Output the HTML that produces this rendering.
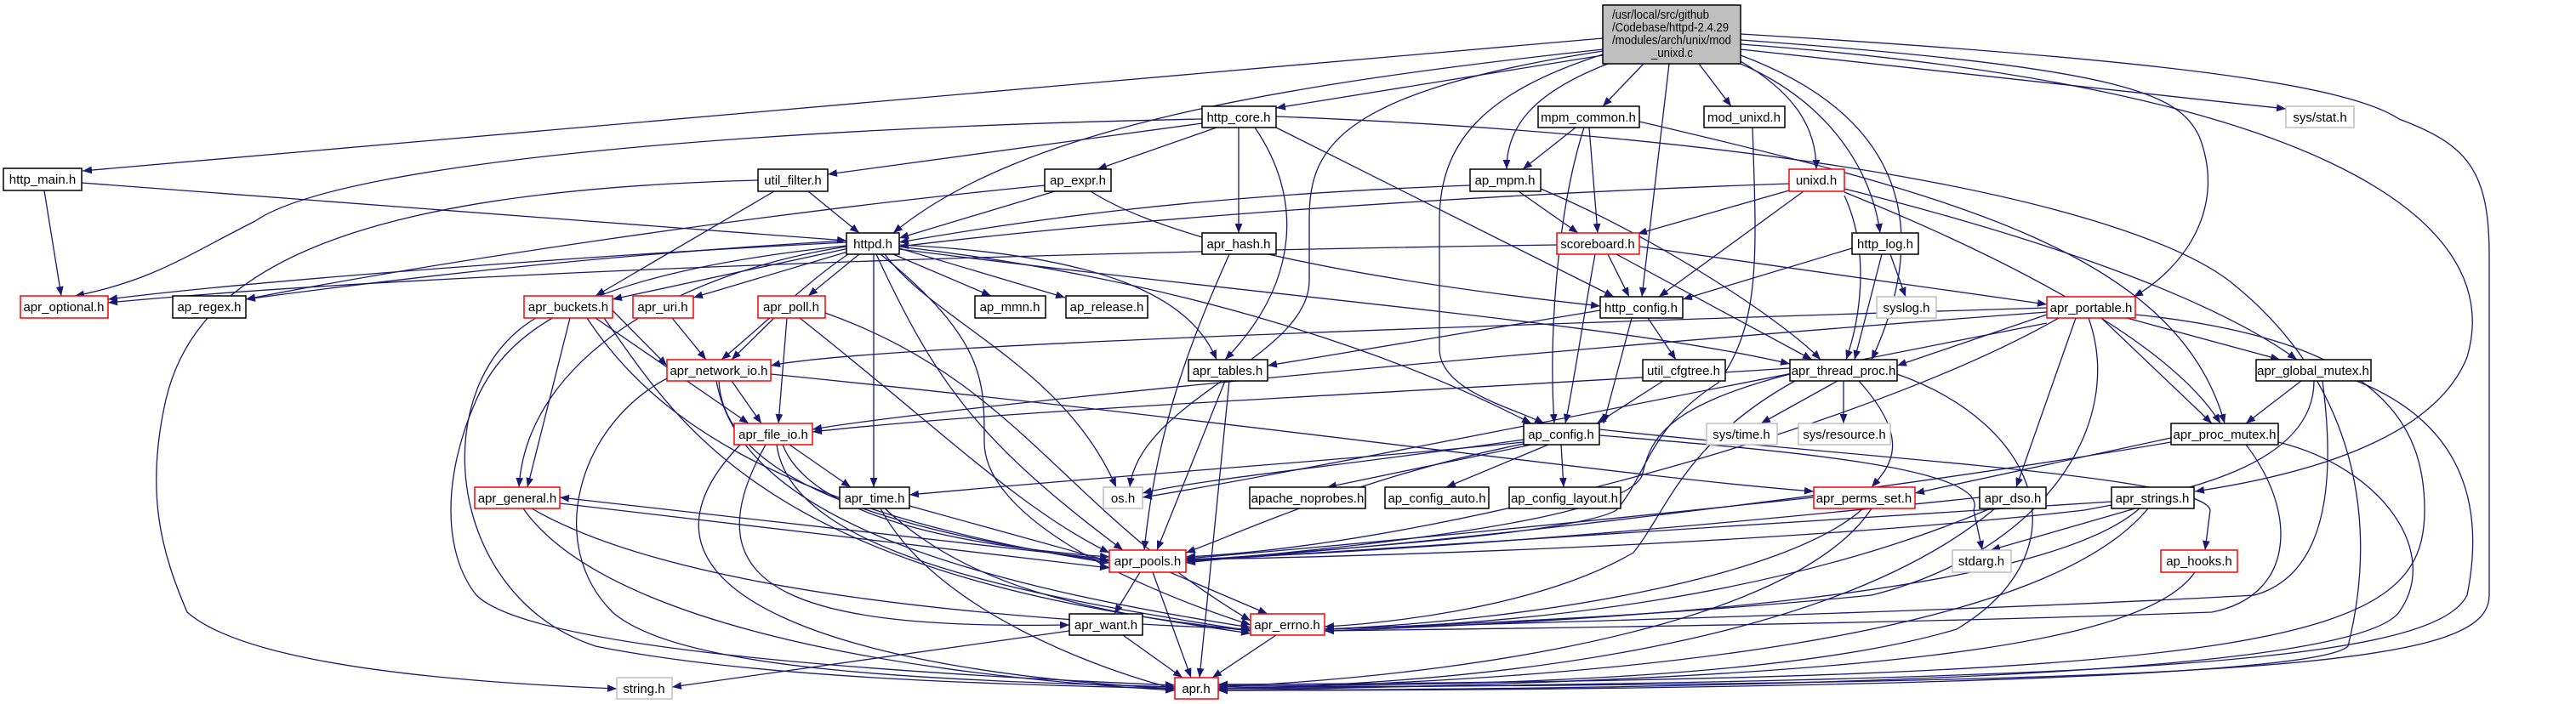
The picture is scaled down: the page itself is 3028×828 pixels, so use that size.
<!DOCTYPE html>
<html><head><meta charset="utf-8"><style>
html,body{margin:0;padding:0;background:#fff;}
svg{display:block;}
text{font-family:"Liberation Sans",sans-serif;font-size:15px;fill:#000;}
.e{fill:none;stroke:#191970;stroke-width:1.3;marker-end:url(#a);}
.n{fill:#fff;stroke:#000;stroke-width:1.5;}
.r{fill:#fff;stroke:#ff0000;stroke-width:1.5;}
.g{fill:#fff;stroke:#bfbfbf;stroke-width:1.5;}
</style></head><body>
<svg width="3028" height="828" viewBox="0 0 3028 828" xmlns="http://www.w3.org/2000/svg">
<defs><marker id="a" viewBox="0 0 10 10" refX="10" refY="5" markerWidth="11" markerHeight="11" markerUnits="userSpaceOnUse" orient="auto"><path d="M0,1 L10,5 L0,9z" fill="#191970"/></marker></defs>
<g>
<!-- root -->
<path class="e" d="M1884,45 L97,201"/>
<path class="e" d="M1884,58 C1500,100 1200,150 1050,274"/>
<path class="e" d="M1884,65 L1500,127"/>
<path class="e" d="M1890,75 C1800,110 1771,150 1771,199"/>
<path class="e" d="M1932,75 L1884,125"/>
<path class="e" d="M1997,75 L2035,125"/>
<path class="e" d="M1962,75 L1930,349"/>
<path class="e" d="M2046,72 C2110,110 2135,150 2135,199"/>
<path class="e" d="M2046,75 C2150,120 2200,200 2210,274"/>
<path class="e" d="M2046,65 C2220,130 2280,250 2200,423"/>
<path class="e" d="M2046,47 C2500,80 2560,110 2585,160 C2620,250 2560,320 2508,349"/>
<path class="e" d="M2046,58 L2687,128"/>
<path class="e" d="M2046,40 C2550,70 2760,100 2820,140 C2900,170 2926,200 2926,300 L2926,700 C2926,780 2700,805 1432,808"/>
<path class="e" d="M1884,60 C1560,110 1539,180 1539,260 L1539,330 C1539,420 1340,470 1328,573"/>
<path class="e" d="M1884,64 C1740,110 1692,170 1692,260 L1692,410 C1692,460 1780,480 1815,498"/>
<path class="e" d="M2046,52 C2700,100 2950,250 2900,420 C2860,520 2700,560 2580,578"/>
<!-- http_main -->
<path class="e" d="M52,224 L72,348"/>
<path class="e" d="M96,215 L995,283"/>
<!-- http_core -->
<path class="e" d="M1413,140 C900,150 400,190 300,260 C220,300 180,330 88,348"/>
<path class="e" d="M1413,145 L973,205"/>
<path class="e" d="M1430,150 L1290,199"/>
<path class="e" d="M1456,150 L1456,274"/>
<path class="e" d="M1500,150 L1897,349"/>
<path class="e" d="M1475,150 C1530,230 1530,330 1440,423"/>
<path class="e" d="M1500,137 C2100,160 2500,240 2620,330 C2760,440 2800,600 2760,760 C2720,800 2000,812 1432,812"/>
<!-- util_filter -->
<path class="e" d="M950,225 L1010,274"/>
<path class="e" d="M910,225 L700,348"/>
<path class="e" d="M891,212 C400,225 230,320 195,470 C170,580 190,650 220,720 C300,790 600,805 725,810"/>
<!-- ap_expr -->
<path class="e" d="M1240,225 L1057,280"/>
<path class="e" d="M1228,218 C900,250 500,310 289,352"/>
<path class="e" d="M1282,225 C1400,300 1700,340 1881,360"/>
<!-- apr_hash -->
<path class="e" d="M1445,299 C1400,400 1360,500 1345,647"/>
<!-- mpm_common -->
<path class="e" d="M1852,150 L1790,199"/>
<path class="e" d="M1868,150 L1878,274"/>
<path class="e" d="M1862,150 C1830,250 1820,400 1827,498"/>
<path class="e" d="M1927,143 C2300,230 2560,300 2615,498"/>
<!-- mod_unixd -->
<path class="e" d="M2060,150 C2065,300 2070,380 2020,450 C1940,500 1935,560 1900,600 C1850,630 1500,650 1394,660"/>
<!-- ap_mpm -->
<path class="e" d="M1728,218 C1400,230 1200,260 1057,285"/>
<path class="e" d="M1785,225 L1855,274"/>
<path class="e" d="M1811,222 C1950,280 2100,380 2140,423"/>
<!-- unixd -->
<path class="e" d="M2103,216 C1700,230 1300,260 1057,290"/>
<path class="e" d="M2110,222 L1925,275"/>
<path class="e" d="M2120,225 L1950,349"/>
<path class="e" d="M2168,230 C2200,300 2185,380 2170,423"/>
<path class="e" d="M2168,222 C2400,280 2600,350 2700,423"/>
<path class="e" d="M2168,226 C2350,300 2550,400 2610,498"/>
<!-- scoreboard -->
<path class="e" d="M1830,288 C1000,300 400,330 127,356"/>
<path class="e" d="M1890,299 L1915,349"/>
<path class="e" d="M1875,299 C1860,380 1850,450 1840,498"/>
<path class="e" d="M1900,299 L2130,423"/>
<path class="e" d="M1927,290 L2406,358"/>
<!-- http_log -->
<path class="e" d="M2177,292 L1978,352"/>
<path class="e" d="M2222,299 L2240,349"/>
<path class="e" d="M2212,299 L2180,423"/>
<!-- http_config -->
<path class="e" d="M1937,374 L1970,423"/>
<path class="e" d="M1918,374 L1885,498"/>
<path class="e" d="M1881,365 L1490,430"/>
<path class="e" d="M1955,448 L1877,498"/>
<!-- httpd -->
<path class="e" d="M995,285 C700,300 300,330 127,352"/>
<path class="e" d="M995,283 C700,300 450,330 289,352"/>
<path class="e" d="M998,292 L720,352"/>
<path class="e" d="M1000,295 L815,350"/>
<path class="e" d="M1010,299 L950,348"/>
<path class="e" d="M1050,299 L1165,348"/>
<path class="e" d="M1057,292 L1252,350"/>
<path class="e" d="M1027,299 L1027,573"/>
<path class="e" d="M1040,299 C1100,380 1250,430 1312,573"/>
<path class="e" d="M1030,299 C1100,450 1150,520 1320,647"/>
<path class="e" d="M1035,299 C1160,400 1157,450 1157,520 C1157,600 1300,680 1470,735"/>
<path class="e" d="M1057,288 C1300,300 1400,350 1430,423"/>
<path class="e" d="M1057,293 C1500,350 1900,380 2104,428"/>
<path class="e" d="M1057,290 C1400,330 1650,420 1800,498"/>
<path class="e" d="M1000,297 C950,330 900,380 848,423"/>
<path class="e" d="M995,290 C800,320 620,420 610,573"/>
<path class="e" d="M995,289 C700,320 600,380 560,470 C520,560 520,650 560,700 C620,760 1000,790 1381,806"/>
<!-- apr_buckets -->
<path class="e" d="M670,374 L620,573"/>
<path class="e" d="M720,365 L784,430"/>
<path class="e" d="M700,374 L880,498"/>
<path class="e" d="M630,374 C500,450 520,700 700,760 C900,800 1200,805 1381,810"/>
<path class="e" d="M710,374 C800,500 900,680 1470,742"/>
<path class="e" d="M690,374 C760,480 900,600 1304,662"/>
<!-- apr_uri / apr_poll -->
<path class="e" d="M790,374 L830,423"/>
<path class="e" d="M910,374 L860,423"/>
<path class="e" d="M925,374 L915,498"/>
<path class="e" d="M940,374 C1100,500 1200,600 1304,650"/>
<path class="e" d="M970,368 C1200,450 1250,600 1470,730"/>
<!-- apr_network_io -->
<path class="e" d="M860,448 L895,498"/>
<path class="e" d="M906,440 C1500,500 1900,560 2132,578"/>
<path class="e" d="M845,448 C850,550 1000,620 1304,660"/>
<path class="e" d="M842,448 C870,600 1100,680 1470,738"/>
<path class="e" d="M784,445 C680,500 640,640 720,720 C800,790 1100,800 1381,808"/>
<!-- apr_file_io -->
<path class="e" d="M928,523 L1000,573"/>
<path class="e" d="M920,523 C950,600 1100,640 1304,655"/>
<path class="e" d="M913,523 C930,650 1200,700 1470,742"/>
<path class="e" d="M900,523 C800,700 950,740 1257,735"/>
<path class="e" d="M870,523 C700,700 1000,790 1381,810"/>
<!-- apr_time -->
<path class="e" d="M1069,595 L1304,660"/>
<path class="e" d="M1040,598 C1150,700 1300,720 1470,745"/>
<path class="e" d="M1035,598 C1100,720 1300,790 1381,810"/>
<!-- apr_pools / general / want / errno -->
<path class="e" d="M1304,658 L658,585"/>
<path class="e" d="M658,592 L1304,668"/>
<path class="e" d="M1340,673 L1310,722"/>
<path class="e" d="M1375,673 L1490,722"/>
<path class="e" d="M1355,673 L1400,797"/>
<path class="e" d="M625,598 C800,700 1200,730 1470,740"/>
<path class="e" d="M615,598 C700,720 1000,790 1381,812"/>
<path class="e" d="M1257,742 L790,808"/>
<path class="e" d="M1320,747 L1390,797"/>
<path class="e" d="M1500,747 L1425,797"/>
<!-- apr_tables -->
<path class="e" d="M1440,448 L1360,647"/>
<path class="e" d="M1445,448 L1410,797"/>
<!-- apr_thread_proc -->
<path class="e" d="M2104,433 C1700,460 1200,480 955,508"/>
<path class="e" d="M2160,448 L2070,498"/>
<path class="e" d="M2167,448 L2167,498"/>
<path class="e" d="M2185,448 C2250,520 2220,550 2200,573"/>
<path class="e" d="M2104,440 C1950,480 1940,520 1930,560 C1900,620 1500,650 1394,662"/>
<path class="e" d="M2110,448 C1980,520 1960,600 1920,650 C1800,720 1600,735 1557,737"/>
<path class="e" d="M2230,440 C2400,500 2450,650 2300,740 C2100,800 1700,808 1432,806"/>
<!-- apr_portable -->
<path class="e" d="M2406,362 C1500,390 1000,410 906,430"/>
<path class="e" d="M2406,367 C1700,420 1100,480 955,505"/>
<path class="e" d="M2406,370 L2230,430"/>
<path class="e" d="M2500,374 L2680,423"/>
<path class="e" d="M2470,374 L2600,498"/>
<path class="e" d="M2440,374 L2370,573"/>
<path class="e" d="M2420,374 C2200,500 1700,640 1394,655"/>
<path class="e" d="M2455,374 C2500,500 2400,650 2200,700 C1900,730 1600,738 1557,740"/>
<path class="e" d="M2510,370 C2800,400 2850,500 2850,600 C2850,750 2700,800 1432,805"/>
<path class="e" d="M2406,380 C2000,460 1500,560 1343,585"/>
<!-- apr_global_mutex -->
<path class="e" d="M2705,448 L2640,498"/>
<path class="e" d="M2720,448 C2720,550 2560,580 2450,600 C2100,640 1600,655 1394,658"/>
<path class="e" d="M2730,448 C2750,600 2720,680 2650,700 C2300,720 1700,735 1557,740"/>
<path class="e" d="M2770,448 C2900,500 2920,600 2900,700 C2860,780 2500,800 1432,810"/>
<!-- apr_proc_mutex -->
<path class="e" d="M2552,515 L2251,580"/>
<path class="e" d="M2552,520 C2200,580 1700,640 1394,660"/>
<path class="e" d="M2640,523 C2700,600 2700,700 2600,720 C2200,735 1700,740 1557,742"/>
<path class="e" d="M2678,520 C2800,550 2870,650 2820,720 C2760,800 2000,810 1432,812"/>
<!-- apr_perms_set -->
<path class="e" d="M2132,585 C1900,610 1600,640 1394,657"/>
<path class="e" d="M2190,598 C2100,680 1800,730 1557,740"/>
<path class="e" d="M2200,598 C2120,720 1800,790 1432,808"/>
<!-- apr_dso -->
<path class="e" d="M2327,585 C1900,630 1600,650 1394,658"/>
<path class="e" d="M2340,598 C2100,700 1800,735 1557,740"/>
<path class="e" d="M2345,598 C2200,720 1900,800 1432,810"/>
<!-- apr_strings -->
<path class="e" d="M2510,598 L2340,647"/>
<path class="e" d="M2482,590 C2000,620 1600,650 1394,660"/>
<path class="e" d="M2515,598 C2400,700 1900,730 1557,742"/>
<path class="e" d="M2525,598 C2400,750 1900,800 1432,810"/>
<!-- ap_config -->
<path class="e" d="M1880,512 C2100,530 2340,550 2320,600 L2330,647"/>
<path class="e" d="M1880,505 C2200,540 2590,560 2598,600 L2592,647"/>
<path class="e" d="M1800,523 L1560,573"/>
<path class="e" d="M1820,523 L1700,573"/>
<path class="e" d="M1835,523 L1838,573"/>
<path class="e" d="M1791,517 C1600,545 1400,565 1343,580"/>
<path class="e" d="M1791,520 C1600,540 1300,560 1069,582"/>
<path class="e" d="M1791,522 C1600,560 1450,630 1394,650"/>
<!-- ap_hooks -->
<path class="e" d="M2580,673 C2520,760 2200,800 1432,812"/>
</g>
<g>
<rect x="1884" y="6" width="162" height="69" fill="#bfbfbf" stroke="#000" stroke-width="1.5"/>
<text x="1895" y="22" textLength="114" lengthAdjust="spacingAndGlyphs">/usr/local/src/github</text>
<text x="1895" y="37" textLength="137" lengthAdjust="spacingAndGlyphs">/Codebase/httpd-2.4.29</text>
<text x="1895" y="52" textLength="140" lengthAdjust="spacingAndGlyphs">/modules/arch/unix/mod</text>
<text x="1941" y="67" textLength="49" lengthAdjust="spacingAndGlyphs">_unixd.c</text>
</g>
<g text-anchor="middle">
<rect class="n" x="4" y="198" width="92" height="26"/><text x="50" y="216">http_main.h</text>
<rect class="r" x="24" y="348" width="103" height="26"/><text x="75" y="366">apr_optional.h</text>
<rect class="n" x="203" y="348" width="86" height="26"/><text x="246" y="366">ap_regex.h</text>
<rect class="r" x="616" y="348" width="104" height="26"/><text x="668" y="366">apr_buckets.h</text>
<rect class="r" x="744" y="348" width="71" height="26"/><text x="779" y="366">apr_uri.h</text>
<rect class="r" x="891" y="348" width="79" height="26"/><text x="930" y="366">apr_poll.h</text>
<rect class="n" x="1146" y="348" width="83" height="26"/><text x="1187" y="366">ap_mmn.h</text>
<rect class="n" x="1253" y="348" width="96" height="26"/><text x="1301" y="366">ap_release.h</text>
<rect class="n" x="995" y="274" width="62" height="25"/><text x="1026" y="292">httpd.h</text>
<rect class="n" x="891" y="199" width="82" height="26"/><text x="932" y="217">util_filter.h</text>
<rect class="n" x="1228" y="199" width="78" height="26"/><text x="1267" y="217">ap_expr.h</text>
<rect class="n" x="1413" y="125" width="87" height="25"/><text x="1456" y="143">http_core.h</text>
<rect class="n" x="1413" y="274" width="87" height="25"/><text x="1456" y="292">apr_hash.h</text>
<rect class="n" x="1808" y="125" width="119" height="25"/><text x="1867" y="143">mpm_common.h</text>
<rect class="n" x="2003" y="125" width="95" height="25"/><text x="2050" y="143">mod_unixd.h</text>
<rect class="n" x="1728" y="199" width="83" height="26"/><text x="1769" y="217">ap_mpm.h</text>
<rect class="r" x="2103" y="199" width="65" height="26"/><text x="2135" y="217">unixd.h</text>
<rect class="r" x="1830" y="274" width="97" height="25"/><text x="1878" y="292">scoreboard.h</text>
<rect class="n" x="2177" y="274" width="78" height="25"/><text x="2216" y="292">http_log.h</text>
<rect class="n" x="1881" y="349" width="97" height="25"/><text x="1929" y="367">http_config.h</text>
<rect class="g" x="2206" y="349" width="70" height="25"/><text x="2241" y="367">syslog.h</text>
<rect class="r" x="2406" y="349" width="104" height="25"/><text x="2458" y="367">apr_portable.h</text>
<rect class="g" x="2687" y="125" width="80" height="25"/><text x="2727" y="143">sys/stat.h</text>
<rect class="r" x="558" y="573" width="100" height="25"/><text x="608" y="591">apr_general.h</text>
<rect class="g" x="725" y="797" width="65" height="25"/><text x="757" y="815">string.h</text>
<rect class="r" x="784" y="423" width="122" height="25"/><text x="845" y="441">apr_network_io.h</text>
<rect class="r" x="863" y="498" width="92" height="25"/><text x="909" y="516">apr_file_io.h</text>
<rect class="n" x="987" y="573" width="82" height="25"/><text x="1028" y="591">apr_time.h</text>
<rect class="g" x="1297" y="573" width="46" height="25"/><text x="1320" y="591">os.h</text>
<rect class="n" x="1397" y="423" width="93" height="25"/><text x="1443" y="441">apr_tables.h</text>
<rect class="r" x="1304" y="647" width="90" height="26"/><text x="1349" y="665">apr_pools.h</text>
<rect class="n" x="1257" y="722" width="86" height="25"/><text x="1300" y="740">apr_want.h</text>
<rect class="r" x="1470" y="722" width="87" height="25"/><text x="1513" y="740">apr_errno.h</text>
<rect class="r" x="1381" y="797" width="51" height="25"/><text x="1406" y="815">apr.h</text>
<rect class="n" x="1469" y="573" width="136" height="25"/><text x="1537" y="591">apache_noprobes.h</text>
<rect class="n" x="1628" y="573" width="122" height="25"/><text x="1689" y="591">ap_config_auto.h</text>
<rect class="n" x="1774" y="573" width="131" height="25"/><text x="1839" y="591">ap_config_layout.h</text>
<rect class="n" x="1791" y="498" width="89" height="25"/><text x="1835" y="516">ap_config.h</text>
<rect class="n" x="1931" y="423" width="97" height="25"/><text x="1979" y="441">util_cfgtree.h</text>
<rect class="n" x="2104" y="423" width="126" height="25"/><text x="2167" y="441">apr_thread_proc.h</text>
<rect class="g" x="2006" y="498" width="83" height="25"/><text x="2047" y="516">sys/time.h</text>
<rect class="g" x="2114" y="498" width="108" height="25"/><text x="2168" y="516">sys/resource.h</text>
<rect class="r" x="2132" y="573" width="119" height="25"/><text x="2191" y="591">apr_perms_set.h</text>
<rect class="n" x="2652" y="423" width="135" height="25"/><text x="2719" y="441">apr_global_mutex.h</text>
<rect class="n" x="2552" y="498" width="126" height="25"/><text x="2615" y="516">apr_proc_mutex.h</text>
<rect class="n" x="2327" y="573" width="78" height="25"/><text x="2366" y="591">apr_dso.h</text>
<rect class="n" x="2482" y="573" width="97" height="25"/><text x="2530" y="591">apr_strings.h</text>
<rect class="g" x="2295" y="647" width="69" height="26"/><text x="2329" y="665">stdarg.h</text>
<rect class="r" x="2540" y="647" width="90" height="26"/><text x="2585" y="665">ap_hooks.h</text>
</g>
</svg>
</body></html>
